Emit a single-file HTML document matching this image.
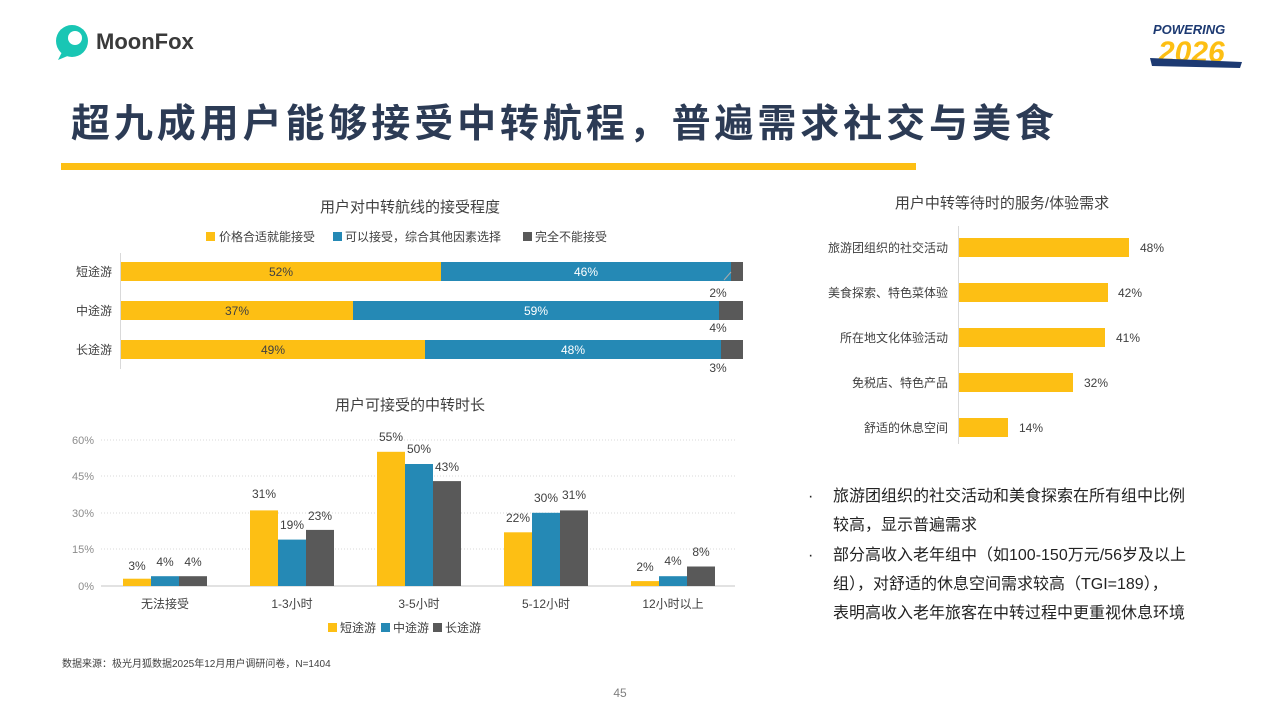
<!DOCTYPE html>
<html><head><meta charset="utf-8"><style>
body{margin:0;width:1280px;height:720px;overflow:hidden;background:#fff;font-family:"Liberation Sans","Noto Sans CJK SC",sans-serif;}
svg text{font-family:"Liberation Sans","Noto Sans CJK SC",sans-serif;}
</style></head><body>
<svg width="1280" height="720" viewBox="0 0 1280 720" xmlns="http://www.w3.org/2000/svg">
<circle cx="72" cy="41" r="16" fill="#19c6b4"/>
<circle cx="75" cy="38" r="7" fill="#fff"/>
<path d="M62 52 L58 60 L70 55 Z" fill="#19c6b4"/>
<text x="96" y="49" font-size="22" font-weight="bold" fill="#3a3a3a">MoonFox</text>
<text x="1153" y="34" font-size="13" font-weight="bold" font-style="italic" fill="#1d3a72">POWERING</text>
<text x="1158" y="62" font-size="30" font-weight="bold" font-style="italic" fill="#fdbf14">2026</text>
<path d="M1150 58 L1242 62 L1240 68 L1152 66 Z" fill="#1d3a72"/>
<text x="71" y="137" font-size="39" font-weight="bold" fill="#2c3b55" letter-spacing="3.9">超九成用户能够接受中转航程，普遍需求社交与美食</text>
<rect x="61" y="163" width="855" height="7" fill="#fdbf14"/>

<text x="410" y="212" font-size="15" fill="#404040" text-anchor="middle">用户对中转航线的接受程度</text>
<rect x="206" y="232" width="9" height="9" fill="#fdbf14"/>
<text x="219" y="241" font-size="12" fill="#404040">价格合适就能接受</text>
<rect x="333" y="232" width="9" height="9" fill="#2589b5"/>
<text x="345" y="241" font-size="12" fill="#404040">可以接受，综合其他因素选择</text>
<rect x="523" y="232" width="9" height="9" fill="#595959"/>
<text x="535" y="241" font-size="12" fill="#404040">完全不能接受</text>
<line x1="120.5" y1="253" x2="120.5" y2="369" stroke="#d9d9d9"/>
<g font-size="12" fill="#404040" text-anchor="end">
<text x="112" y="276">短途游</text><text x="112" y="315">中途游</text><text x="112" y="354">长途游</text>
</g>
<rect x="121" y="262" width="320" height="19" fill="#fdbf14"/><rect x="441" y="262" width="290" height="19" fill="#2589b5"/><rect x="731" y="262" width="12" height="19" fill="#595959"/>
<rect x="121" y="301" width="232" height="19" fill="#fdbf14"/><rect x="353" y="301" width="366" height="19" fill="#2589b5"/><rect x="719" y="301" width="24" height="19" fill="#595959"/>
<rect x="121" y="340" width="304" height="19" fill="#fdbf14"/><rect x="425" y="340" width="296" height="19" fill="#2589b5"/><rect x="721" y="340" width="22" height="19" fill="#595959"/>
<line x1="731" y1="272" x2="724" y2="280" stroke="#aaa"/>
<g font-size="12" text-anchor="middle">
<text x="281" y="276" fill="#404040">52%</text><text x="586" y="276" fill="#fff">46%</text>
<text x="237" y="315" fill="#404040">37%</text><text x="536" y="315" fill="#fff">59%</text>
<text x="273" y="354" fill="#404040">49%</text><text x="573" y="354" fill="#fff">48%</text>
<text x="718" y="297" fill="#404040">2%</text><text x="718" y="332" fill="#404040">4%</text><text x="718" y="372" fill="#404040">3%</text>
</g>

<text x="410" y="410" font-size="15" fill="#404040" text-anchor="middle">用户可接受的中转时长</text>
<g stroke="#d9d9d9" stroke-dasharray="1,2">
<line x1="101" y1="440" x2="735" y2="440"/><line x1="101" y1="476" x2="735" y2="476"/><line x1="101" y1="513" x2="735" y2="513"/><line x1="101" y1="549" x2="735" y2="549"/>
</g>
<line x1="101" y1="586" x2="735" y2="586" stroke="#d9d9d9" stroke-width="1.5"/>
<g font-size="11" fill="#8c8c8c" text-anchor="end">
<text x="94" y="444">60%</text><text x="94" y="480">45%</text><text x="94" y="517">30%</text><text x="94" y="553">15%</text><text x="94" y="590">0%</text>
</g>
<g font-size="12" fill="#404040" text-anchor="middle">
<text x="165" y="608">无法接受</text><text x="292" y="608">1-3小时</text><text x="419" y="608">3-5小时</text><text x="546" y="608">5-12小时</text><text x="673" y="608">12小时以上</text>
</g>
<rect x="328" y="623" width="9" height="9" fill="#fdbf14"/><text x="340" y="632" font-size="12" fill="#404040">短途游</text>
<rect x="381" y="623" width="9" height="9" fill="#2589b5"/><text x="393" y="632" font-size="12" fill="#404040">中途游</text>
<rect x="433" y="623" width="9" height="9" fill="#595959"/><text x="445" y="632" font-size="12" fill="#404040">长途游</text>

<text x="1002" y="208" font-size="15" fill="#404040" text-anchor="middle">用户中转等待时的服务/体验需求</text>
<line x1="958.5" y1="226" x2="958.5" y2="444" stroke="#d9d9d9"/>
<g fill="#fdbf14">
<rect x="959" y="238" width="170" height="19"/><rect x="959" y="283" width="149" height="19"/><rect x="959" y="328" width="146" height="19"/><rect x="959" y="373" width="114" height="19"/><rect x="959" y="418" width="49" height="19"/>
</g>
<g font-size="12" fill="#404040" text-anchor="end">
<text x="948" y="252">旅游团组织的社交活动</text><text x="948" y="297">美食探索、特色菜体验</text><text x="948" y="342">所在地文化体验活动</text><text x="948" y="387">免税店、特色产品</text><text x="948" y="432">舒适的休息空间</text>
</g>
<g font-size="12" fill="#404040">
<text x="1140" y="252">48%</text><text x="1118" y="297">42%</text><text x="1116" y="342">41%</text><text x="1084" y="387">32%</text><text x="1019" y="432">14%</text>
</g>

<g font-size="16" fill="#222">
<text x="808" y="501">·</text><text x="833" y="501">旅游团组织的社交活动和美食探索在所有组中比例</text>
<text x="833" y="530">较高，显示普遍需求</text>
<text x="808" y="560">·</text><text x="833" y="560">部分高收入老年组中（如100-150万元/56岁及以上</text>
<text x="833" y="589">组），对舒适的休息空间需求较高（TGI=189），</text>
<text x="833" y="618">表明高收入老年旅客在中转过程中更重视休息环境</text>
</g>

<text x="62" y="667" font-size="10" fill="#404040">数据来源：极光月狐数据2025年12月用户调研问卷，N=1404</text>
<text x="620" y="697" font-size="12" fill="#7f7f7f" text-anchor="middle">45</text>

<g>
<rect x="123" y="578.7" width="28" height="7.3" fill="#fdbf14"/><rect x="151" y="576.2" width="28" height="9.8" fill="#2589b5"/><rect x="179" y="576.2" width="28" height="9.8" fill="#595959"/>
<rect x="250" y="510.4" width="28" height="75.6" fill="#fdbf14"/><rect x="278" y="539.6" width="28" height="46.4" fill="#2589b5"/><rect x="306" y="529.9" width="28" height="56.1" fill="#595959"/>
<rect x="377" y="451.8" width="28" height="134.2" fill="#fdbf14"/><rect x="405" y="464" width="28" height="122" fill="#2589b5"/><rect x="433" y="481.1" width="28" height="104.9" fill="#595959"/>
<rect x="504" y="532.3" width="28" height="53.7" fill="#fdbf14"/><rect x="532" y="512.8" width="28" height="73.2" fill="#2589b5"/><rect x="560" y="510.4" width="28" height="75.6" fill="#595959"/>
<rect x="631" y="581.1" width="28" height="4.9" fill="#fdbf14"/><rect x="659" y="576.2" width="28" height="9.8" fill="#2589b5"/><rect x="687" y="566.5" width="28" height="19.5" fill="#595959"/>
</g>
<g font-size="12" fill="#404040" text-anchor="middle">
<text x="137" y="570">3%</text><text x="165" y="566">4%</text><text x="193" y="566">4%</text>
<text x="264" y="498">31%</text><text x="292" y="529">19%</text><text x="320" y="520">23%</text>
<text x="391" y="441">55%</text><text x="419" y="453">50%</text><text x="447" y="471">43%</text>
<text x="518" y="522">22%</text><text x="546" y="502">30%</text><text x="574" y="499">31%</text>
<text x="645" y="571">2%</text><text x="673" y="565">4%</text><text x="701" y="556">8%</text>
</g>
</svg>
</body></html>
